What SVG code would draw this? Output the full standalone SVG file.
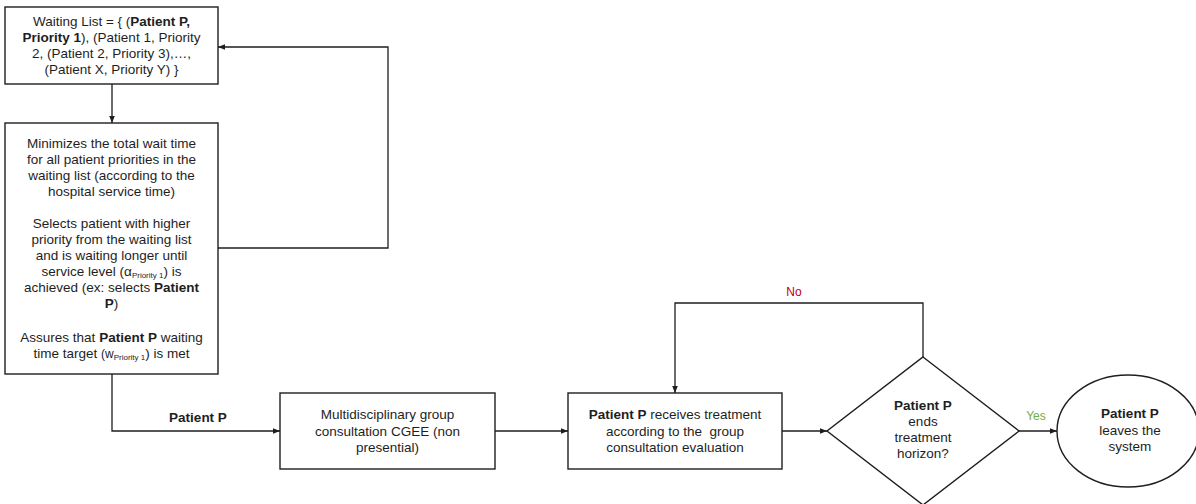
<svg xmlns="http://www.w3.org/2000/svg" width="1196" height="504" viewBox="0 0 1196 504">
  <style>
    .box { fill: #ffffff; stroke: #1e1e1e; stroke-width: 1.4; }
    .line { fill: none; stroke: #1e1e1e; stroke-width: 1.3; }
    text { font-family: "Liberation Sans", Arial, sans-serif; font-size: 13.5px; fill: #1e1e1e; text-anchor: middle; }
    .b { font-weight: bold; }
    .sub { font-size: 8px; }
    .sm { font-size: 12px; }
    .no { fill: #c00000; font-size: 12px; }
    .yes { fill: #70ad47; font-size: 12px; }
  </style>
  <defs>
    <marker id="arrow" viewBox="0 0 10 10" refX="10" refY="5" markerWidth="7" markerHeight="7" markerUnits="userSpaceOnUse" orient="auto">
      <path d="M0,1 L10,5 L0,9 Z" fill="#1e1e1e"/>
    </marker>
  </defs>

  <rect width="1196" height="504" fill="#ffffff"/>

  <!-- connectors -->
  <g id="connectors">
    <path class="line" d="M112,84 V123" marker-end="url(#arrow)"/>
    <path class="line" d="M218,248 H388 V47 H218" marker-end="url(#arrow)"/>
    <path class="line" d="M112,374 V431 H280" marker-end="url(#arrow)"/>
    <path class="line" d="M495,431 H568" marker-end="url(#arrow)"/>
    <path class="line" d="M782,431 H827" marker-end="url(#arrow)"/>
    <path class="line" d="M923,357 V303 H675 V393" marker-end="url(#arrow)"/>
    <path class="line" d="M1019,431 H1057" marker-end="url(#arrow)"/>
    <text class="b" x="198" y="422">Patient P</text>
    <text class="no" x="794" y="296">No</text>
    <text class="yes" x="1036" y="420">Yes</text>
  </g>

  <!-- waiting list -->
  <g id="waiting-list">
    <rect class="box" x="5" y="7" width="213" height="77"/>
    <text x="111.5" y="26">Waiting List = { (<tspan class="b">Patient P,</tspan></text>
    <text x="111.5" y="42"><tspan class="b">Priority 1</tspan>), (Patient 1, Priority</text>
    <text x="111.5" y="58">2, (Patient 2, Priority 3),…,</text>
    <text x="111.5" y="74">(Patient X, Priority Y) }</text>
  </g>

  <!-- scheduling rules -->
  <g id="selection">
    <rect class="box" x="5" y="123" width="213" height="251"/>
    <text x="111.5" y="148">Minimizes the total wait time</text>
    <text x="111.5" y="164">for all patient priorities in the</text>
    <text x="111.5" y="180">waiting list (according to the</text>
    <text x="111.5" y="196">hospital service time)</text>
    <text x="111.5" y="228">Selects patient with higher</text>
    <text x="111.5" y="244">priority from the waiting list</text>
    <text x="111.5" y="260">and is waiting longer until</text>
    <text x="111.5" y="276">service level (α<tspan class="sub" dy="2">Priority 1</tspan><tspan dy="-2">) is</tspan></text>
    <text x="111.5" y="292">achieved (ex: selects <tspan class="b">Patient</tspan></text>
    <text x="111.5" y="308"><tspan class="b">P</tspan>)</text>
    <text x="111.5" y="342">Assures that <tspan class="b">Patient P</tspan> waiting</text>
    <text x="111.5" y="358">time target <tspan class="sm">(w</tspan><tspan class="sub" dy="2">Priority 1</tspan><tspan dy="-2">) is met</tspan></text>
  </g>

  <!-- group consultation -->
  <g id="consultation">
    <rect class="box" x="280" y="393" width="215" height="76"/>
    <text x="387.5" y="419">Multidisciplinary group</text>
    <text x="387.5" y="435.5">consultation CGEE (non</text>
    <text x="387.5" y="452">presential)</text>
  </g>

  <!-- treatment -->
  <g id="treatment">
    <rect class="box" x="568" y="393" width="214" height="76"/>
    <text x="675" y="419"><tspan class="b">Patient P</tspan> receives treatment</text>
    <text x="675" y="435.5" xml:space="preserve">according to the  group</text>
    <text x="675" y="452">consultation evaluation</text>
  </g>

  <!-- decision -->
  <g id="decision">
    <polygon class="box" points="923,357 1019,431 923,505 827,431"/>
    <text class="b" x="923" y="410">Patient P</text>
    <text x="923" y="426">ends</text>
    <text x="923" y="442">treatment</text>
    <text x="923" y="458">horizon?</text>
  </g>

  <!-- exit -->
  <g id="exit">
    <ellipse class="box" cx="1128" cy="431" rx="71" ry="56"/>
    <text class="b" x="1130" y="418">Patient P</text>
    <text x="1130" y="435">leaves the</text>
    <text x="1130" y="451">system</text>
  </g>
</svg>
